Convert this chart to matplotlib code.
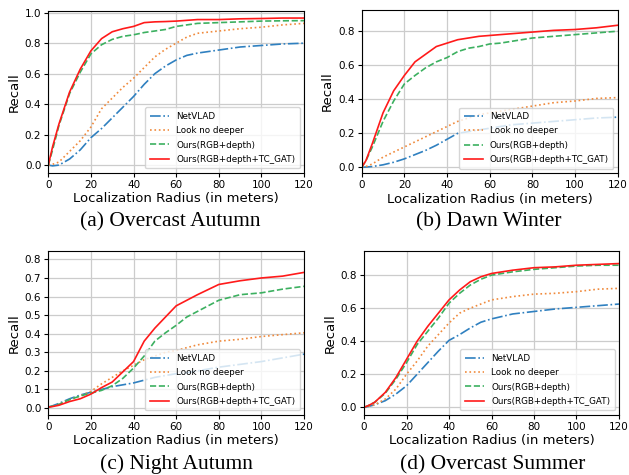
import matplotlib
matplotlib.use("Agg")
import matplotlib.pyplot as plt

# sample radii (meters), shared by all panels
radius = [0, 2, 5, 10, 15, 20, 25, 30, 35, 40, 45, 50, 55, 60, 65, 70, 80, 90, 100, 110, 120]

labels = ["NetVLAD", "Look no deeper", "Ours(RGB+depth)", "Ours(RGB+depth+TC_GAT)"]
captions = ["(a) Overcast Autumn", "(b) Dawn Winter", "(c) Night Autumn", "(d) Overcast Summer"]

# (a) Overcast Autumn
a_netvlad = [0, -0.005, 0.0, 0.04, 0.1, 0.18, 0.24, 0.31, 0.38, 0.45, 0.53, 0.6, 0.65, 0.69, 0.72, 0.735, 0.755, 0.775, 0.785, 0.795, 0.80]
a_lnd = [0, 0.005, 0.02, 0.09, 0.16, 0.25, 0.37, 0.44, 0.51, 0.57, 0.64, 0.71, 0.76, 0.80, 0.84, 0.865, 0.88, 0.895, 0.905, 0.92, 0.93]
a_rgbd = [0, 0.1, 0.26, 0.47, 0.61, 0.73, 0.79, 0.825, 0.845, 0.855, 0.87, 0.88, 0.89, 0.91, 0.92, 0.93, 0.935, 0.94, 0.945, 0.947, 0.948]
a_gat = [0, 0.12, 0.27, 0.48, 0.63, 0.75, 0.83, 0.875, 0.895, 0.91, 0.935, 0.94, 0.942, 0.945, 0.95, 0.955, 0.955, 0.96, 0.962, 0.965, 0.965]

# (b) Dawn Winter
b_netvlad = [0, 0.002, 0.005, 0.015, 0.03, 0.05, 0.075, 0.1, 0.13, 0.165, 0.2, 0.21, 0.22, 0.23, 0.24, 0.25, 0.26, 0.27, 0.28, 0.29, 0.295]
b_lnd = [0, 0.005, 0.02, 0.06, 0.09, 0.12, 0.15, 0.18, 0.21, 0.24, 0.27, 0.29, 0.31, 0.32, 0.33, 0.34, 0.36, 0.38, 0.39, 0.405, 0.41]
b_rgbd = [0, 0.04, 0.12, 0.27, 0.39, 0.49, 0.54, 0.585, 0.62, 0.645, 0.68, 0.70, 0.71, 0.725, 0.73, 0.74, 0.76, 0.77, 0.78, 0.79, 0.80]
b_gat = [0, 0.04, 0.14, 0.32, 0.45, 0.54, 0.62, 0.665, 0.71, 0.73, 0.75, 0.76, 0.77, 0.775, 0.78, 0.785, 0.795, 0.805, 0.81, 0.82, 0.835]

# (c) Night Autumn
c_netvlad = [0.005, 0.012, 0.025, 0.05, 0.07, 0.085, 0.1, 0.115, 0.125, 0.135, 0.15, 0.165, 0.175, 0.185, 0.19, 0.2, 0.22, 0.235, 0.25, 0.27, 0.29]
c_lnd = [0.005, 0.01, 0.02, 0.045, 0.065, 0.09, 0.13, 0.165, 0.2, 0.23, 0.26, 0.28, 0.30, 0.31, 0.325, 0.34, 0.36, 0.37, 0.385, 0.395, 0.405]
c_rgbd = [0.005, 0.01, 0.02, 0.045, 0.065, 0.08, 0.095, 0.12, 0.16, 0.215, 0.28, 0.36, 0.405, 0.445, 0.49, 0.52, 0.58, 0.61, 0.62, 0.64, 0.655]
c_gat = [0.005, 0.008, 0.015, 0.035, 0.05, 0.075, 0.11, 0.14, 0.195, 0.25, 0.36, 0.43, 0.49, 0.55, 0.58, 0.61, 0.665, 0.685, 0.70, 0.71, 0.73]

# (d) Overcast Summer
d_netvlad = [0, 0.005, 0.015, 0.04, 0.08, 0.13, 0.2, 0.27, 0.34, 0.405, 0.44, 0.48, 0.515, 0.535, 0.55, 0.565, 0.58, 0.595, 0.605, 0.615, 0.625]
d_lnd = [0, 0.005, 0.015, 0.05, 0.11, 0.2, 0.28, 0.37, 0.44, 0.51, 0.57, 0.60, 0.625, 0.65, 0.66, 0.67, 0.685, 0.69, 0.70, 0.715, 0.72]
d_rgbd = [0, 0.01, 0.03, 0.085, 0.17, 0.27, 0.38, 0.46, 0.54, 0.63, 0.69, 0.74, 0.775, 0.80, 0.81, 0.82, 0.835, 0.845, 0.855, 0.86, 0.86]
d_gat = [0, 0.01, 0.03, 0.09, 0.18, 0.29, 0.40, 0.49, 0.57, 0.65, 0.71, 0.76, 0.79, 0.81, 0.82, 0.83, 0.845, 0.85, 0.86, 0.865, 0.87]

panels = [
    (a_netvlad, a_lnd, a_rgbd, a_gat),
    (b_netvlad, b_lnd, b_rgbd, b_gat),
    (c_netvlad, c_lnd, c_rgbd, c_gat),
    (d_netvlad, d_lnd, d_rgbd, d_gat),
]

# axes placement [left, bottom, width, height] and y-ranges
boxes = [
    [0.0768, 0.6364, 0.4065, 0.341],
    [0.575, 0.6358, 0.407, 0.344],
    [0.0768, 0.1269, 0.4065, 0.345],
    [0.5787, 0.1269, 0.4054, 0.345],
]
ylims = [(-0.05, 1.013), (-0.033, 0.927), (-0.036, 0.846), (-0.045, 0.947)]
yticks = [
    [0, 0.2, 0.4, 0.6, 0.8, 1.0],
    [0, 0.2, 0.4, 0.6, 0.8],
    [0, 0.1, 0.2, 0.3, 0.4, 0.5, 0.6, 0.7, 0.8],
    [0, 0.2, 0.4, 0.6, 0.8],
]
caption_pos = [(0.270, 0.533), (0.777, 0.533), (0.280, 0.022), (0.784, 0.022)]

styles = [
    dict(color="#2f80c0", linestyle="-."),
    dict(color="#f08a3c", linestyle=":"),
    dict(color="#3cb060", linestyle="--"),
    dict(color="#ff1a1a", linestyle="-"),
]

fig = plt.figure(figsize=(6.29, 4.75), dpi=100)

for i, series in enumerate(panels):
    ax = fig.add_axes(boxes[i])
    for vals, lab, st in zip(series, labels, styles):
        ax.plot(radius, vals, label=lab, lw=1.2, **st)
    ax.set_xlim(0, 120)
    ax.set_ylim(*ylims[i])
    ax.set_xticks([0, 20, 40, 60, 80, 100, 120])
    ax.set_yticks(yticks[i])
    ax.tick_params(labelsize=7.5, length=3, width=0.8, pad=2)
    ax.grid(True, color="#cccccc", lw=0.9)
    ax.set_xlabel("Localization Radius (in meters)", fontsize=9.5, labelpad=2)
    ax.set_ylabel("Recall", fontsize=9.5, labelpad=3)
    ax.legend(loc="lower right", fontsize=6.3, handlelength=2.2, handletextpad=0.8,
              borderpad=0.5, labelspacing=0.62)
    fig.text(caption_pos[i][0], caption_pos[i][1], captions[i], ha="center", va="center",
             fontsize=15.5, family="Liberation Serif")

fig.savefig("out.png", dpi=100)
